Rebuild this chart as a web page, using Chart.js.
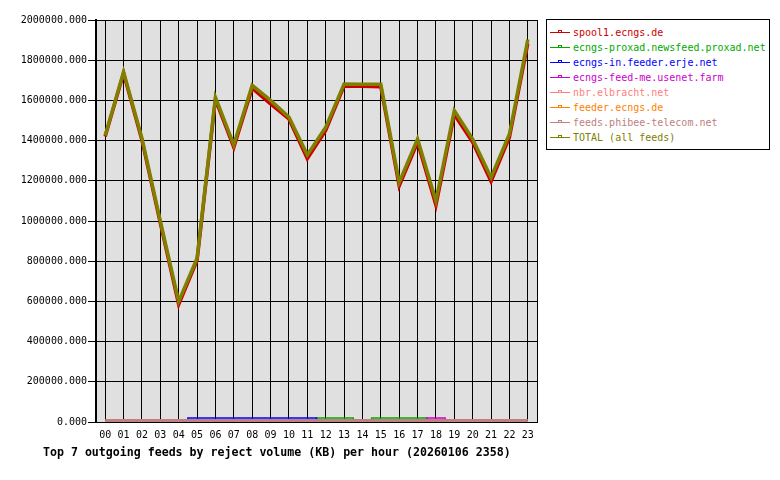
<!DOCTYPE html>
<html>
<head>
<meta charset="utf-8">
<script src="https://cdn.jsdelivr.net/npm/chart.js@4/dist/chart.umd.min.js"></script>
<style>
  html, body { margin: 0; padding: 0; background: #ffffff; }
  #wrap { position: relative; width: 780px; height: 480px; }
  #chart { position: absolute; left: 0; top: 0; }
  #legend {
    position: absolute; left: 546px; top: 19px; width: 222px; height: 129px;
    border: 1px solid #000; background: #fff;
    font-family: "DejaVu Sans Mono", "Liberation Mono", monospace; font-size: 10px;
  }
  .row { position: absolute; left: 0; height: 12px; width: 220px; }
  .row .ln { position: absolute; left: 3px; top: 5px; width: 20px; height: 1px; }
  .row .mk { position: absolute; left: 11px; top: 3px; width: 2px; height: 1px; border: 1px solid; border-bottom: none; }
  .row .tx { position: absolute; left: 26px; top: 0; line-height: 12px; white-space: nowrap; }
  #title {
    position: absolute; left: 43px; top: 445px; white-space: nowrap;
    font-family: "DejaVu Sans Mono", "Liberation Mono", monospace;
    font-weight: bold; font-size: 11.6px; line-height: 14px; color: #000;
  }
</style>
</head>
<body>
<div id="wrap">
  <canvas id="chart" width="780" height="480"></canvas>
  <div id="legend"></div>
  <div id="title">Top 7 outgoing feeds by reject volume (KB) per hour (20260106 2358)</div>
</div>
<script>
// Hours of the day (x categories)
const hours = ['00','01','02','03','04','05','06','07','08','09','10','11',
               '12','13','14','15','16','17','18','19','20','21','22','23'];

// Feed names and their colours, in legend order
const feedNames = [
  'spool1.ecngs.de',
  'ecngs-proxad.newsfeed.proxad.net',
  'ecngs-in.feeder.erje.net',
  'ecngs-feed-me.usenet.farm',
  'nbr.elbracht.net',
  'feeder.ecngs.de',
  'feeds.phibee-telecom.net',
  'TOTAL (all feeds)'
];
const feedColors = ['#cc0000', '#00aa00', '#0000ff', '#cc00cc', '#ff8080', '#ff8000', '#c08080', '#808000'];

// Rejected volume per hour (KB)
const spool1 = [1420000, 1735000, 1402000, 990000, 585000, 805000, 1605000, 1366000,
                1661000, 1583000, 1508000, 1310000, 1450000, 1672000, 1670000, 1668000,
                1174000, 1392000, 1079000, 1530000, 1392000, 1197000, 1417000, 1883000];
const proxad = [0, 0, 0, 0, 0, 0, 0, 0, 0, 0, 0, 0,
                20000, 20000, 0, 20000, 20000, 20000, 0, 0, 0, 0, 0, 0];
const erje   = [0, 0, 0, 0, 0, 20000, 20000, 20000, 20000, 20000, 20000, 20000,
                0, 0, 0, 0, 0, 0, 0, 0, 0, 0, 0, 0];
const usenetFarm = [0, 0, 0, 0, 0, 0, 0, 0, 0, 0, 0, 0,
                    0, 0, 0, 0, 0, 0, 20000, 0, 0, 0, 0, 0];
const elbracht = [0, 0, 0, 0, 0, 0, 0, 0, 0, 0, 0, 0,
                  0, 0, 0, 0, 0, 0, 0, 0, 0, 0, 0, 0];
const feederEcngs = [0, 0, 0, 0, 0, 0, 0, 0, 0, 0, 0, 0,
                     0, 0, 0, 0, 0, 0, 0, 0, 0, 0, 0, 0];
const phibee = [8000, 8000, 8000, 8000, 8000, 8000, 8000, 8000, 8000, 8000, 8000, 8000,
                8000, 8000, 8000, 8000, 8000, 8000, 8000, 8000, 8000, 8000, 8000, 8000];
const total  = [1425000, 1742000, 1412000, 1000000, 600000, 815000, 1616000, 1379000,
                1675000, 1600000, 1517000, 1329000, 1466000, 1682000, 1680000, 1680000,
                1192000, 1408000, 1100000, 1550000, 1408000, 1217000, 1433000, 1903000];

const seriesValues = [spool1, proxad, erje, usenetFarm, elbracht, feederEcngs, phibee, total];
const lineWidths   = [3.5, 1.5, 1.5, 1.5, 1.5, 1.5, 3, 3.5];
const smallFeed    = [false, true, true, true, true, true, false, false];

// Y axis range and step
const yMin = 0, yMax = 2000000, yStep = 200000;

const FONT = '"DejaVu Sans Mono", "Liberation Mono", monospace';

// Later feeds are painted over earlier ones (TOTAL on top)
const datasets = seriesValues.map((vals, i) => ({
  label: feedNames[i],
  data: vals,
  borderColor: feedColors[i],
  backgroundColor: feedColors[i],
  borderWidth: lineWidths[i],
  pointRadius: 0,
  tension: 0,
  fill: false,
  stepped: smallFeed[i] ? 'middle' : false,
  order: seriesValues.length - 1 - i
}));

// Grey plotting area plus its right-hand frame
const plotFrame = {
  id: 'plotFrame',
  beforeDraw(chart) {
    const { ctx, chartArea: a } = chart;
    ctx.save();
    ctx.fillStyle = '#e0e0e0';
    ctx.fillRect(a.left, a.top, a.right - a.left, a.bottom - a.top);
    ctx.restore();
  },
  afterDraw(chart) {
    const { ctx, chartArea: a } = chart;
    ctx.save();
    ctx.strokeStyle = '#000';
    ctx.lineWidth = 1;
    ctx.beginPath();
    const xr = Math.round(a.right) + 0.5;
    ctx.moveTo(xr, a.top);
    ctx.lineTo(xr, a.bottom + 1);
    ctx.stroke();
    ctx.restore();
  }
};

new Chart(document.getElementById('chart'), {
  type: 'line',
  data: { labels: hours, datasets },
  plugins: [plotFrame],
  options: {
    responsive: false,
    animation: false,
    devicePixelRatio: 1,
    layout: { padding: { left: 0, top: 20, right: 243, bottom: 0 } },
    plugins: { legend: { display: false }, tooltip: { enabled: false }, title: { display: false } },
    scales: {
      x: {
        offset: true,
        grid: { offset: false, color: '#000', lineWidth: 1, drawTicks: false },
        border: { color: '#000', width: 1 },
        ticks: { color: '#000', font: { family: FONT, size: 10 }, padding: 7, maxRotation: 0, autoSkip: false },
        afterFit(scale) { scale.height = 58; }
      },
      y: {
        min: yMin, max: yMax,
        grid: { color: '#000', lineWidth: 1, drawTicks: true, tickLength: 8, tickColor: '#000' },
        border: { color: '#000', width: 2 },
        ticks: {
          stepSize: yStep, color: '#000', padding: 1,
          font: { family: FONT, size: 10 },
          callback: (v) => Number(v).toFixed(3)
        },
        afterFit(scale) { scale.width = 96; }
      }
    }
  }
});

// Legend box
const legend = document.getElementById('legend');
feedNames.forEach((name, i) => {
  const row = document.createElement('div');
  row.className = 'row';
  row.style.top = (7 + 15 * i) + 'px';
  const ln = document.createElement('span');
  ln.className = 'ln'; ln.style.background = feedColors[i];
  const mk = document.createElement('span');
  mk.className = 'mk'; mk.style.borderColor = feedColors[i];
  const tx = document.createElement('span');
  tx.className = 'tx'; tx.style.color = feedColors[i]; tx.textContent = name;
  row.appendChild(ln); row.appendChild(mk); row.appendChild(tx);
  legend.appendChild(row);
});
</script>
</body>
</html>
